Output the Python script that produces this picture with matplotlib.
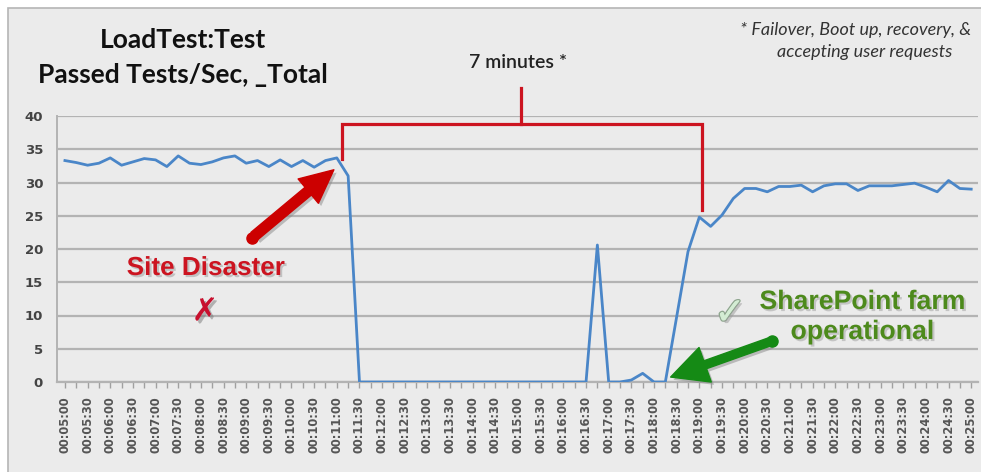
import matplotlib
matplotlib.use("Agg")
import matplotlib.pyplot as plt
import matplotlib.patheffects as pe
from matplotlib.patches import Rectangle, FancyArrowPatch
from matplotlib.lines import Line2D

# ---- data (15-second samples, 00:05:00 .. 00:25:00) ----
tick_labels = ["00:%02d:%02d" % (5 + k // 2, 30 * (k % 2)) for k in range(41)]
series_name = "Passed Tests/Sec, _Total"
values = [33.3, 33.0, 32.6, 32.9, 33.7, 32.6, 33.1, 33.6, 33.4, 32.4,
          34.0, 32.9, 32.7, 33.1, 33.7, 34.0, 32.9, 33.3, 32.4, 33.4,
          32.4, 33.3, 32.3, 33.3, 33.7, 31.0,
          0, 0, 0, 0, 0, 0, 0, 0, 0, 0,
          0, 0, 0, 0, 0, 0, 0, 0, 0, 0, 0,
          20.6,
          0, 0, 0.3, 1.3, 0, 0,
          9.8, 19.6, 24.8, 23.4, 25.1, 27.6, 29.1, 29.1, 28.6, 29.4,
          29.4, 29.6, 28.6, 29.5, 29.8, 29.8, 28.8, 29.5, 29.5, 29.5,
          29.7, 29.9, 29.3, 28.6, 30.3, 29.1, 29.0]
y_ticks = [0, 5, 10, 15, 20, 25, 30, 35, 40]

W, H = 981, 472
fig = plt.figure(figsize=(W / 100, H / 100), dpi=100)
fig.patch.set_facecolor("white")

bg = "#ebebeb"
# outer panel
fig.patches.append(Rectangle((8 / W, -0.1), 1.2, 1 - 8 / H + 0.1, transform=fig.transFigure,
                             facecolor=bg, edgecolor="#b5b5b5", linewidth=1.2, zorder=-5))

def fx(px):
    return px / W

def fy(py):
    return 1 - py / H

ax = fig.add_axes([fx(57), fy(382), (978 - 57) / W, (382 - 116) / H])
ax.set_facecolor(bg)

x = list(range(len(values)))
ax.plot(x, values, color="#4a86c8", linewidth=2.0, zorder=3, solid_joinstyle="round")

ax.set_xlim(-0.7, 80.6)
ax.set_ylim(0, 40)
ax.set_yticks(y_ticks)
ax.set_yticklabels([str(v) for v in y_ticks])
ax.set_xticks(list(range(0, 81, 2)))
ax.set_xticklabels(tick_labels, rotation=90, fontsize=8.3, color="#555555",
                   fontweight="bold", family="DejaVu Sans")
ax.set_xticks(list(range(0, 81)), minor=True)
ax.tick_params(axis="x", which="both", length=4, color="#a0a0a0", width=1, pad=6)
ax.tick_params(axis="y", length=0, pad=10, labelsize=9.5, labelcolor="#444444")
for lab in ax.get_yticklabels():
    lab.set_fontweight("bold")

ax.grid(axis="y", color="#b3b3b3", linewidth=1.6, zorder=1)
ax.set_axisbelow(True)
for s in ["top", "right"]:
    ax.spines[s].set_visible(False)
ax.spines["left"].set_color("#b3b3b3")
ax.spines["bottom"].set_color("#b3b3b3")
ax.spines["left"].set_linewidth(1.4)
ax.spines["bottom"].set_linewidth(1.6)

# ---- bracket "7 minutes" ----
red = "#cc1420"
bx0, bx1, bxm = 24.45, 56.2, 40.3
ax.plot([bx0, bx0, bx1, bx1], [33.5, 38.8, 38.8, 25.9], color=red, linewidth=2.3,
        clip_on=False, zorder=4, solid_joinstyle="miter")
ax.plot([bxm, bxm], [38.8, 44.2], color=red, linewidth=2.3, clip_on=False, zorder=4)

# ---- texts ----
title_font = "Lato"
fig.text(fx(183), fy(40), "LoadTest:Test", ha="center", va="center",
         fontsize=19, fontweight="bold", family=title_font, color="#111111")
fig.text(fx(183), fy(75), series_name, ha="center", va="center",
         fontsize=19, fontweight="bold", family=title_font, color="#111111")
fig.text(fx(518), fy(62), "7 minutes *", ha="center", va="center",
         fontsize=14, family=title_font, fontweight="semibold", color="#222222")
fig.text(fx(740), fy(30), "* Failover, Boot up, recovery, &", ha="left", va="center",
         fontsize=13, family=title_font, style="italic", color="#333333")
fig.text(fx(865), fy(52), "accepting user requests", ha="center", va="center",
         fontsize=13, family=title_font, style="italic", color="#333333")

shadow = [pe.SimplePatchShadow(offset=(2, -2), shadow_rgbFace="#888888", alpha=0.5), pe.Normal()]

fig.text(fx(206), fy(268), "Site Disaster", ha="center", va="center",
         fontsize=18.8, fontweight="bold", family="Liberation Sans", color=red,
         path_effects=[pe.withSimplePatchShadow(offset=(1.5, -1.5), shadow_rgbFace="#999999", alpha=0.5)])
fig.text(fx(205), fy(312), "\u2717", ha="center", va="center",
         fontsize=23, family="DejaVu Sans", color="#c8102e",
         path_effects=[pe.withSimplePatchShadow(offset=(2, -2), shadow_rgbFace="#777777", alpha=0.5)])

green_txt = "#4d8a1c"
for txt, py in [("SharePoint farm", 302), ("operational", 332)]:
    fig.text(fx(862), fy(py), txt, ha="center", va="center",
             fontsize=19.2, fontweight="bold", family="Liberation Sans", color=green_txt,
             path_effects=[pe.withSimplePatchShadow(offset=(1.5, -1.5), shadow_rgbFace="#aaaaaa", alpha=0.6)])
fig.text(fx(730), fy(314), "\u2713", ha="center", va="center",
         fontsize=27, family="DejaVu Sans", color="#d3ecd3",
         path_effects=[pe.withStroke(linewidth=2, foreground="#8fa68f"),
                       pe.withSimplePatchShadow(offset=(2, -2), shadow_rgbFace="#999999", alpha=0.5)])

# ---- arrows ----
red_arrow = FancyArrowPatch((fx(252), fy(238)), (fx(336), fy(168)), transform=fig.transFigure,
                            arrowstyle="simple,head_length=2.0,head_width=1.9,tail_width=0.6",
                            mutation_scale=12, color="#cc0000", zorder=6, path_effects=shadow)
fig.patches.append(red_arrow)
fig.add_artist(Line2D([fx(252)], [fy(238)], marker="o", markersize=8,
                      color="#cc0000", transform=fig.transFigure, zorder=7))

green_arrow = FancyArrowPatch((fx(772), fy(341)), (fx(668), fy(378)), transform=fig.transFigure,
                              arrowstyle="simple,head_length=2.2,head_width=2.2,tail_width=0.5",
                              mutation_scale=12, color="#158a15", zorder=6, path_effects=shadow)
fig.patches.append(green_arrow)
fig.add_artist(Line2D([fx(772)], [fy(341)], marker="o", markersize=8,
                      color="#158a15", transform=fig.transFigure, zorder=7))

fig.savefig("out.png", dpi=100, facecolor=fig.get_facecolor())
